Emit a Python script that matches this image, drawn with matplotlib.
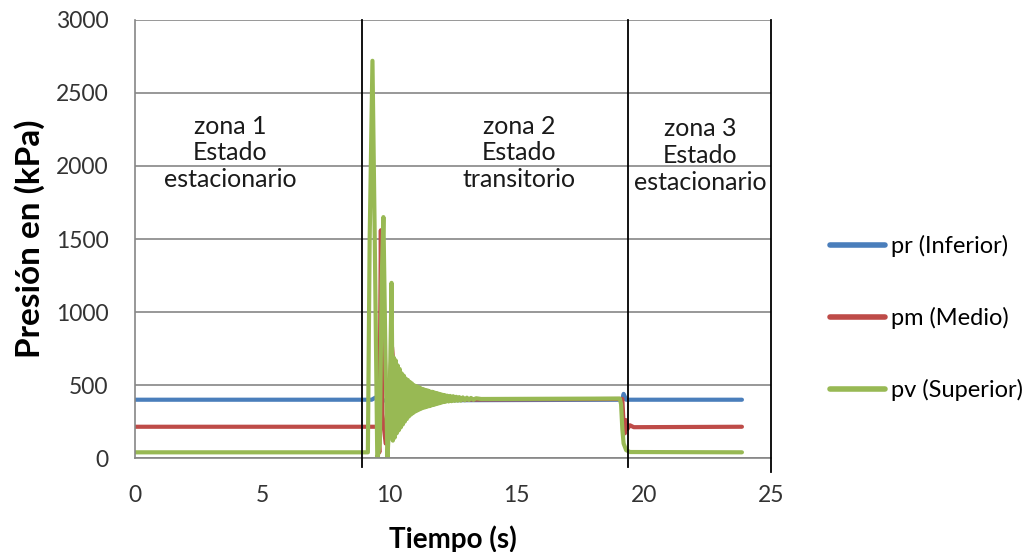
import matplotlib.pyplot as plt

# Presion vs tiempo (tres zonas)

FONT = "Lato"

# pr (Inferior)
pr_t = [0, 9.3, 9.45, 9.6, 19.15, 19.2, 19.3, 23.85]
pr_p = [400, 400, 415, 395, 400, 440, 400, 400]

# pm (Medio)
pm_t = [0, 9.55, 9.6, 9.66, 9.72, 9.85, 10.1, 10.3, 10.6, 11.0,
        19.15, 19.2, 19.25, 19.3, 19.35, 19.45, 19.6, 23.85]
pm_p = [215, 215, 40, 1560, 300, 100, 760, 300, 470, 400,
        405, 230, 170, 260, 200, 225, 212, 215]

# pv (Superior)
pv_t = [0, 9.15, 9.22, 9.33, 9.42, 9.52, 9.62, 9.69, 9.76, 9.84, 9.92,
        10.0, 10.08, 10.13,
        10.16, 10.20, 10.24, 10.28, 10.32, 10.36, 10.40, 10.44, 10.48, 10.52,
        10.56, 10.60, 10.64, 10.68, 10.72, 10.76, 10.80, 10.84, 10.88, 10.92,
        10.96, 11.00, 11.04, 11.08, 11.12, 11.16, 11.20, 11.24, 11.28, 11.32,
        11.36, 11.40, 11.44, 11.48, 11.52, 11.56, 11.60, 11.64, 11.68, 11.72,
        11.76, 11.80, 11.84, 11.88, 11.92, 11.96, 12.00, 12.04, 12.08, 12.12,
        12.16, 12.20, 12.26, 12.32, 12.38, 12.44, 12.50, 12.56, 12.62, 12.68,
        12.74, 12.80, 12.88, 12.96, 13.04, 13.12, 13.20, 13.30, 13.40, 13.60,
        19.05, 19.1, 19.15, 19.2, 19.3, 19.45, 23.85]
pv_p = [40, 40, 1500, 2720, 1500, -10, 100, 1200, 1650, 700, 0,
        300, 1200, 120,
        690, 140, 670, 170, 635, 190, 610, 210, 580, 230,
        565, 250, 545, 268, 535, 285, 522, 298, 512, 308,
        500, 318, 494, 325, 488, 332, 482, 338, 474, 344,
        470, 348, 466, 352, 462, 356, 456, 360, 454, 364,
        450, 368, 446, 372, 442, 376, 438, 380, 434, 384,
        432, 386, 428, 388, 426, 390, 424, 392, 420, 393,
        418, 394, 416, 396, 414, 398, 412, 400, 410, 405,
        408, 370, 200, 100, 55, 42, 40]

# limites de zona
zone_x = [8.9, 19.38, 25.0]
zone_bottom = [-62, -62, -96]

zone_labels = ["zona 1\nEstado\nestacionario",
               "zona 2\nEstado\ntransitorio",
               "zona 3\nEstado\nestacionario"]
zone_label_x = [3.75, 15.1, 22.2]
zone_label_y = [2090, 2090, 2070]

fig = plt.figure(figsize=(10.31, 5.52), dpi=100)
ax = fig.add_axes([0.131, 0.170, 0.617, 0.794])

ax.plot(pr_t, pr_p, color="#4A7EBB", lw=3, label="pr (Inferior)", solid_capstyle="round")
ax.plot(pm_t, pm_p, color="#BE4B48", lw=3, label="pm (Medio)", solid_capstyle="round")
ax.plot(pv_t, pv_p, color="#98B954", lw=3, label="pv (Superior)", solid_capstyle="round")

for x, yb in zip(zone_x, zone_bottom):
    ax.plot([x, x], [yb, 3000], color="black", lw=1.3, clip_on=False, zorder=5)

for x, y, s in zip(zone_label_x, zone_label_y, zone_labels):
    ax.text(x, y, s, ha="center", va="center", fontsize=18, family=FONT,
            linespacing=1.2, color="#1a1a1a")

ax.set_xlim(0, 25)
ax.set_ylim(0, 3000)
ax.set_xticks([0, 5, 10, 15, 20, 25])
ax.set_yticks(range(0, 3001, 500))
ax.yaxis.grid(True, color="#868686", lw=1.2)
ax.set_axisbelow(True)
ax.tick_params(length=0, labelsize=16.5, colors="#333333")
ax.tick_params(axis="y", pad=19)
ax.tick_params(axis="x", pad=19)
for lab in ax.get_xticklabels() + ax.get_yticklabels():
    lab.set_family(FONT)

for side in ["top", "right"]:
    ax.spines[side].set_visible(False)
for side in ["left", "bottom"]:
    ax.spines[side].set_color("#868686")
    ax.spines[side].set_linewidth(1.2)

ax.set_xlabel("Tiempo (s)", fontsize=20, fontweight="bold", family=FONT, labelpad=14)
ax.set_ylabel("Presión en (kPa)", fontsize=24, fontweight="bold", family=FONT, labelpad=8)

leg = ax.legend(loc="upper left", bbox_to_anchor=(0.794, 0.595), bbox_transform=fig.transFigure,
                frameon=False, handlelength=2.3, labelspacing=2.1, handletextpad=0.25,
                borderpad=0, prop={"family": FONT, "size": 17})
for line in leg.get_lines():
    line.set_linewidth(4)

fig.savefig("out.png", dpi=100)
